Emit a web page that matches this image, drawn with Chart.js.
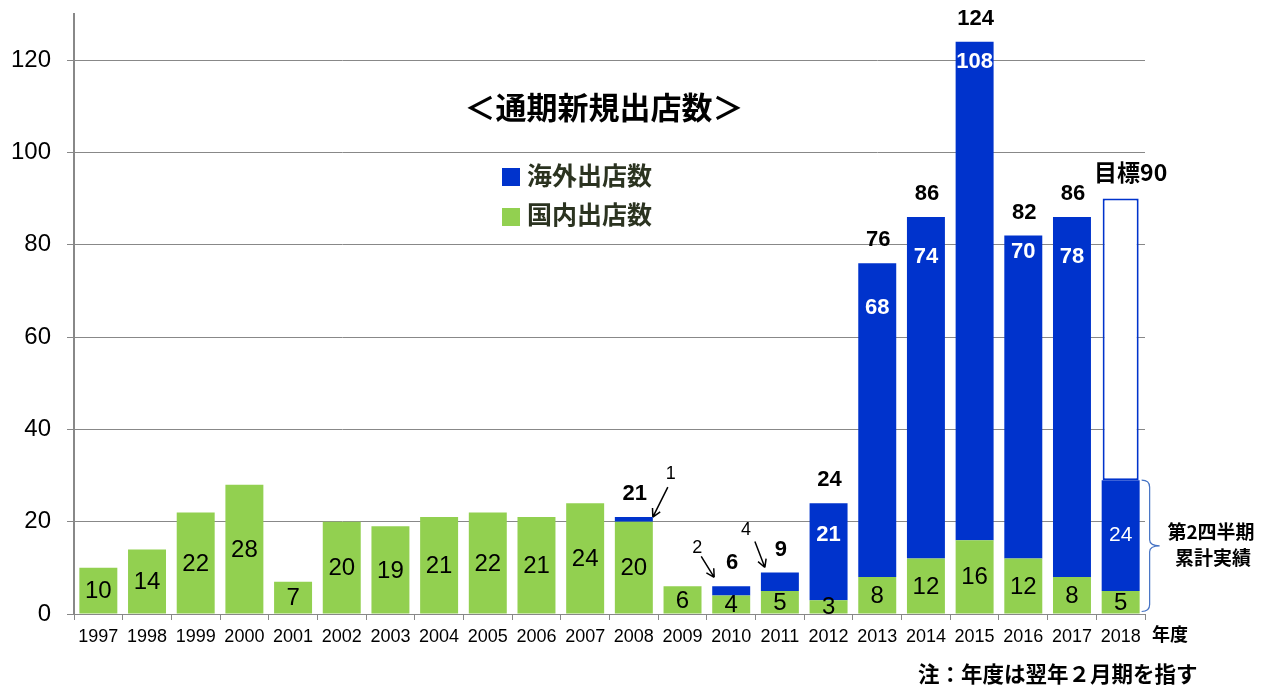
<!DOCTYPE html>
<html>
<head>
<meta charset="utf-8">
<script src="https://cdn.jsdelivr.net/npm/chart.js@4"></script>
<style>
  html, body { margin: 0; padding: 0; background: #fff; }
  #wrap { width: 1271px; height: 688px; position: relative; }
</style>
</head>
<body>
<div id="wrap"><canvas id="newStores" width="1271" height="688"></canvas></div>
<script>
// data
var years = ['1997','1998','1999','2000','2001','2002','2003','2004','2005','2006','2007',
             '2008','2009','2010','2011','2012','2013','2014','2015','2016','2017','2018'];
var domestic = [10, 14, 22, 28, 7, 20, 19, 21, 22, 21, 24, 20, 6, 4, 5, 3, 8, 12, 16, 12, 8, 5];
var overseas = [0, 0, 0, 0, 0, 0, 0, 0, 0, 0, 0, 1, 0, 2, 4, 21, 68, 74, 108, 70, 78, 24];
var target2018 = 90;
var yTicks = [0, 20, 40, 60, 80, 100, 120];

var BLUE = '#0033CC';
var GREEN = '#92D050';
var JP = '"Noto Sans CJK JP", sans-serif';
var LAT = '"Liberation Sans", Arial, sans-serif';

// remaining part of the 2018 target, drawn as an empty box on top
var targetRest = years.map(function(y, i) {
    if (y !== '2018') return null;
    return target2018 - domestic[i] - overseas[i];
});

// offsets (px) of the white overseas labels below the top of the bar
var blueLabelDy = {'2012': 32, '2013': 45, '2014': 40, '2015': 20, '2016': 16, '2017': 40};

//================================================================================================Drawing plugin
var extras = {
    id: 'extras',
    afterDatasetsDraw: function(chart) {
        var ctx = chart.ctx;
        var metaG = chart.getDatasetMeta(0);
        var metaB = chart.getDatasetMeta(1);
        ctx.save();
        ctx.textAlign = 'center';
        ctx.textBaseline = 'middle';

        for (var i = 0; i < years.length; i++) {
            var g = metaG.data[i];
            var b = metaB.data[i];
            // domestic label, centered in green part
            ctx.fillStyle = '#000';
            ctx.font = '24px ' + LAT;
            ctx.fillText(String(domestic[i]), g.x, (g.y + g.base) / 2 + 1);

            // overseas label (white)
            ctx.fillStyle = '#fff';
            if (years[i] === '2018') {
                ctx.font = '21px ' + LAT;
                ctx.fillText(String(overseas[i]), b.x, (b.y + b.base) / 2);
            } else if (blueLabelDy[years[i]] !== undefined) {
                ctx.font = 'bold 22px ' + LAT;
                ctx.fillText(String(overseas[i]), b.x, b.y + blueLabelDy[years[i]]);
            }
            // totals on top
            if (overseas[i] > 0 && years[i] !== '2018') {
                ctx.fillStyle = '#000';
                ctx.font = 'bold 22px ' + LAT;
                ctx.fillText(String(domestic[i] + overseas[i]), b.x + 1, b.y - 23);
            }
        }

        // target label
        var t = chart.getDatasetMeta(2).data[years.indexOf('2018')];
        ctx.fillStyle = '#000';
        ctx.font = 'bold 23px ' + JP;
        ctx.fillText('目標90', t.x + 10, t.y - 26);

        // small arrows with notes
        function arrow(x1, y1, x2, y2) {
            ctx.beginPath();
            ctx.moveTo(x1, y1);
            ctx.lineTo(x2, y2);
            var a = Math.atan2(y2 - y1, x2 - x1);
            ctx.moveTo(x2, y2);
            ctx.lineTo(x2 - 9 * Math.cos(a - 0.5), y2 - 9 * Math.sin(a - 0.5));
            ctx.moveTo(x2, y2);
            ctx.lineTo(x2 - 9 * Math.cos(a + 0.5), y2 - 9 * Math.sin(a + 0.5));
            ctx.stroke();
        }
        ctx.strokeStyle = '#000';
        ctx.lineWidth = 1.5;
        ctx.fillStyle = '#000';
        ctx.font = '18px ' + LAT;
        var b08 = metaB.data[years.indexOf('2008')];
        var r08 = b08.x + b08.width / 2;
        arrow(r08 + 15, b08.y - 30, r08, b08.y);
        ctx.fillText('1', r08 + 18, b08.y - 43);
        var b10 = metaB.data[years.indexOf('2010')];
        var l10 = b10.x - b10.width / 2;
        arrow(l10 - 11, b10.y - 30, l10 + 2, b10.y - 9);
        ctx.fillText('2', l10 - 15, b10.y - 38);
        var b11 = metaB.data[years.indexOf('2011')];
        var l11 = b11.x - b11.width / 2;
        arrow(l11 - 6, b11.y - 31, l11 + 4, b11.y - 5);
        ctx.fillText('4', l11 - 15, b11.y - 42);

        // brace next to 2018 results
        var g18 = metaG.data[years.indexOf('2018')];
        var b18 = metaB.data[years.indexOf('2018')];
        var bx = b18.x + b18.width / 2 + 2;
        var top = b18.y, bot = g18.base - 2, mid = (top + bot) / 2;
        ctx.strokeStyle = '#4472C4';
        ctx.lineWidth = 1.2;
        ctx.beginPath();
        ctx.moveTo(bx, top);
        ctx.quadraticCurveTo(bx + 8, top, bx + 8, top + 7);
        ctx.lineTo(bx + 8, mid - 6);
        ctx.quadraticCurveTo(bx + 8, mid, bx + 18, mid);
        ctx.quadraticCurveTo(bx + 8, mid, bx + 8, mid + 6);
        ctx.lineTo(bx + 8, bot - 7);
        ctx.quadraticCurveTo(bx + 8, bot, bx, bot);
        ctx.stroke();
        ctx.fillStyle = '#000';
        ctx.font = 'bold 19px ' + JP;
        ctx.fillText('第2四半期', 1211, mid - 14);
        ctx.fillText('累計実績', 1213, mid + 12);

        // title and legend
        ctx.font = 'bold 31px ' + JP;
        ctx.fillText('＜通期新規出店数＞', 604, 107);
        ctx.textAlign = 'left';
        ctx.fillStyle = BLUE;
        ctx.fillRect(502, 168, 18, 18);
        ctx.fillStyle = GREEN;
        ctx.fillRect(502, 208, 18, 18);
        ctx.fillStyle = '#2B3320';
        ctx.font = 'bold 25px ' + JP;
        ctx.fillText('海外出店数', 527, 175);
        ctx.fillText('国内出店数', 527, 214);

        // axis unit and footnote
        ctx.fillStyle = '#000';
        ctx.font = 'bold 18px ' + JP;
        ctx.fillText('年度', 1152, 634);
        ctx.font = 'bold 21.5px ' + JP;
        ctx.fillText('注：年度は翌年２月期を指す', 918, 674);
        ctx.restore();
    }
};

//================================================================================================Stacked bar chart
var ctx = document.getElementById('newStores');
var storeChart = new Chart(ctx, {
    type: 'bar',
    data: {
        labels: years,
        datasets: [{
            label: '国内出店数',
            data: domestic,
            backgroundColor: GREEN,
            borderWidth: 0,
            barPercentage: 0.78,
            categoryPercentage: 1
        }, {
            label: '海外出店数',
            data: overseas,
            backgroundColor: BLUE,
            borderWidth: 0,
            barPercentage: 0.78,
            categoryPercentage: 1
        }, {
            label: '目標',
            data: targetRest,
            backgroundColor: '#fff',
            borderColor: BLUE,
            borderWidth: 2,
            borderSkipped: false,
            barPercentage: 0.74,
            categoryPercentage: 1
        }]
    },
    options: {
        responsive: false,
        animation: false,
        layout: { padding: { top: 14, right: 126, left: 0, bottom: 0 } },
        plugins: {
            legend: { display: false },
            tooltip: { enabled: false }
        },
        scales: {
            x: {
                stacked: true,
                afterFit: function(s) { s.height = 74; },
                border: { color: '#888', width: 1 },
                grid: { drawOnChartArea: false, drawTicks: true, tickLength: 6, color: '#888' },
                ticks: { color: '#000', font: { family: LAT, size: 18 }, padding: 6, maxRotation: 0, autoSkip: false }
            },
            y: {
                stacked: true,
                min: 0,
                max: 130,
                afterFit: function(s) {
                    s.width = 74;
                    s.paddingTop = 0;
                    s.paddingBottom = 0;
                },
                afterBuildTicks: function(s) {
                    s.ticks = yTicks.map(function(v) { return { value: v }; });
                },
                border: { color: '#888', width: 2 },
                grid: { color: '#888', lineWidth: 1, tickLength: 7 },
                ticks: { color: '#000', font: { family: LAT, size: 24 }, padding: 16 }
            }
        }
    },
    plugins: [extras]
});
</script>
</body>
</html>
